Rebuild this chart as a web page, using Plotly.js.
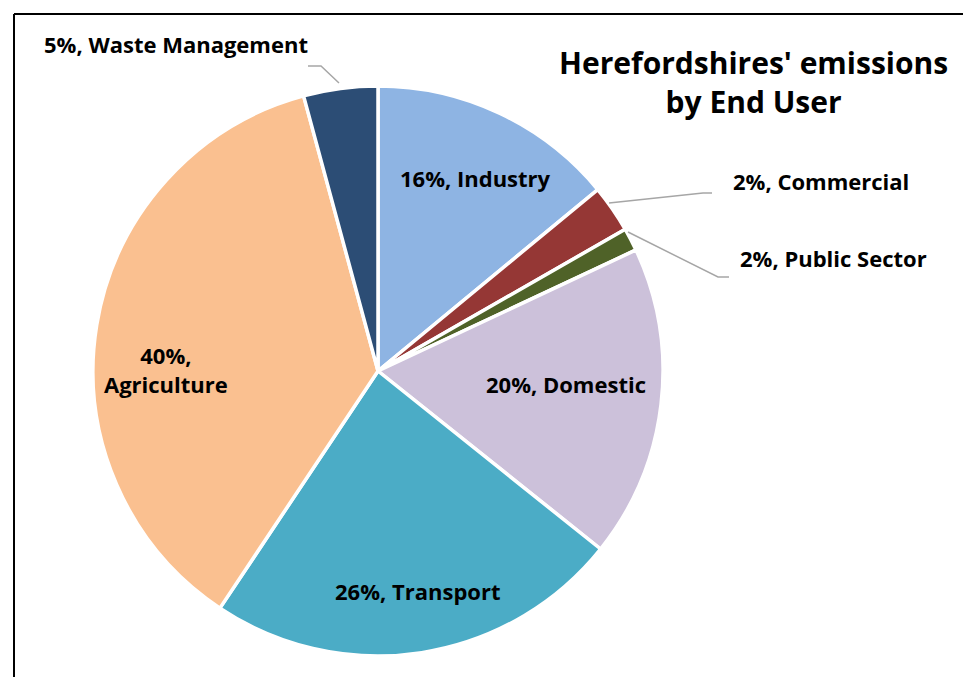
<!DOCTYPE html>
<html>
<head>
<meta charset="utf-8">
<script src="https://cdn.plot.ly/plotly-3.0.1.min.js"></script>
<style>html,body{margin:0;padding:0;background:#fff;}#chart{width:963px;height:677px;}</style>
</head>
<body>
<div id="chart"></div>
<script>
const categories = ["Industry", "Commercial", "Public Sector", "Domestic", "Transport", "Agriculture", "Waste Management"];
const values = [14.0, 2.7, 1.3, 17.7, 23.6, 36.4, 4.2];
const labelPercents = ["16%", "2%", "2%", "20%", "26%", "40%", "5%"];
const colors = ["#8EB4E3", "#953735", "#4F6228", "#CCC1DA", "#4BACC6", "#FAC090", "#2C4D75"];

const W = 963, H = 677;
const px = x => x / W;
const py = y => 1 - y / H;

const cx = 378, cy = 371, R = 285;

const trace = {
  type: "pie",
  labels: categories,
  values: values,
  sort: false,
  direction: "clockwise",
  rotation: 0,
  textinfo: "none",
  hoverinfo: "label+value",
  marker: { colors: colors, line: { color: "#ffffff", width: 3.5 } },
  domain: { x: [px(cx - R), px(cx + R)], y: [py(cy + R), py(cy - R)] },
  showlegend: false
};

const lblFont = { family: "'Open Sans', sans-serif", size: 22, color: "#000", weight: 700 };
const labelPos = [
  [475, 178], [821, 181], [833, 258], [566, 384], [417, 591], [166, 369], [176, 44]
];
const annotations = categories.map((c, i) => {
  let t = labelPercents[i] + ", " + c;
  if (c === "Agriculture") t = labelPercents[i] + ",<br>" + c;
  return {
    text: t, xref: "paper", yref: "paper",
    x: px(labelPos[i][0]), y: py(labelPos[i][1]),
    xanchor: "center", yanchor: "middle", showarrow: false,
    font: lblFont
  };
});
annotations.push({
  text: "Herefordshires' emissions<br>by End User",
  xref: "paper", yref: "paper", x: px(753), y: py(82),
  xanchor: "center", yanchor: "middle", showarrow: false,
  font: { family: "'Open Sans', sans-serif", size: 30, color: "#000", weight: 700 },
  align: "center"
});

function path(pts) {
  return "M " + pts.map(p => px(p[0]) + "," + py(p[1])).join(" L ");
}
const leader = { color: "#A6A6A6", width: 1.5 };
const shapes = [
  { type: "path", xref: "paper", yref: "paper", path: path([[308, 66], [321, 66], [339, 83]]), line: leader },
  { type: "path", xref: "paper", yref: "paper", path: path([[609, 203], [703, 193], [712, 193]]), line: leader },
  { type: "path", xref: "paper", yref: "paper", path: path([[628, 232], [718, 277], [729, 277]]), line: leader },
  // chart frame
  { type: "line", xref: "paper", yref: "paper", x0: px(14), x1: px(14), y0: py(14), y1: -0.02, line: { color: "#000", width: 2 } },
  { type: "line", xref: "paper", yref: "paper", x0: px(14), x1: 1.02, y0: py(14), y1: py(14), line: { color: "#000", width: 2 } }
];

const layout = {
  width: W, height: H,
  margin: { l: 0, r: 0, t: 0, b: 0 },
  paper_bgcolor: "#fff",
  annotations: annotations,
  shapes: shapes
};

Plotly.newPlot("chart", [trace], layout, { displayModeBar: false, staticPlot: true });
</script>
</body>
</html>
